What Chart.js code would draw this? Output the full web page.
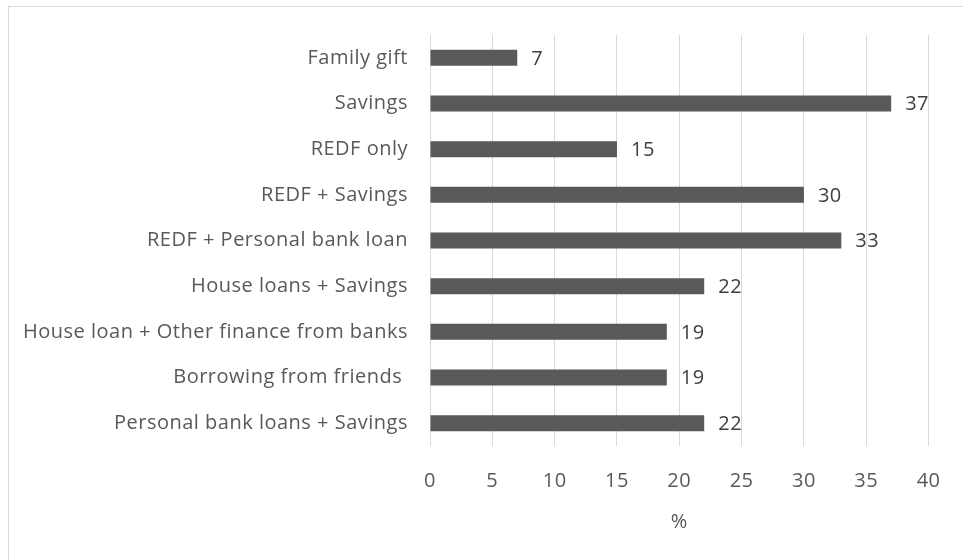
<!DOCTYPE html>
<html lang="en">
<head>
    <meta charset="UTF-8">
    <title>Financing sources</title>
    <style>
        html, body { margin: 0; padding: 0; background: #fff; }
        .frame {
            position: absolute; left: 8px; top: 6px; width: 1000px; height: 600px;
            border-left: 1px solid #d9d9d9; border-top: 1px solid #d9d9d9;
        }
        .wrap { position: absolute; left: 0; top: 0; width: 963px; height: 560px; }
    </style>
</head>
<body>
    <div class="frame"></div>
    <div class="wrap"><canvas id="myChart"></canvas></div>

    <script src="https://cdn.jsdelivr.net/npm/chart.js@4.4.0/dist/chart.umd.min.js"></script>
    <script>
        // data, top to bottom as in the picture
        var categories = [
            'Family gift',
            'Savings',
            'REDF only',
            'REDF + Savings',
            'REDF + Personal bank loan',
            'House loans + Savings',
            'House loan + Other finance from banks',
            'Borrowing from friends ',
            'Personal bank loans + Savings'
        ];
        var percents = [7, 37, 15, 30, 33, 22, 19, 19, 22];
        var xTicks = [0, 5, 10, 15, 20, 25, 30, 35, 40];

        var fontFamily = "'Open Sans', 'Liberation Sans', sans-serif";
        var fontSize = 20;

        // a touch of letter spacing so the text runs as wide as the original
        var spacing = {
            id: 'spacing',
            beforeDraw: function(chart) {
                if ('letterSpacing' in chart.ctx) chart.ctx.letterSpacing = '0.5px';
            }
        };

        // value labels at the end of each bar
        var valueLabels = {
            id: 'valueLabels',
            afterDatasetsDraw: function(chart) {
                var ctx = chart.ctx;
                var meta = chart.getDatasetMeta(0);
                ctx.save();
                ctx.font = fontSize + 'px ' + fontFamily;
                ctx.fillStyle = '#404040';
                ctx.textAlign = 'left';
                ctx.textBaseline = 'middle';
                meta.data.forEach(function(bar, i) {
                    ctx.fillText(String(percents[i]), bar.x + 14, bar.y + 1);
                });
                ctx.restore();
            }
        };

        var ctx = document.getElementById('myChart').getContext('2d');
        var myChart = new Chart(ctx, {
            type: 'bar',
            data: {
                labels: categories,
                datasets: [{
                    data: percents,
                    backgroundColor: '#595959',
                    barPercentage: 0.35,
                    categoryPercentage: 1.0
                }]
            },
            options: {
                indexAxis: 'y',
                responsive: true,
                maintainAspectRatio: false,
                animation: false,
                layout: { padding: { left: 0, right: 34, top: 35, bottom: 0 } },
                plugins: {
                    legend: { display: false },
                    tooltip: { enabled: false }
                },
                scales: {
                    x: {
                        min: 0,
                        max: 40,
                        afterBuildTicks: function(scale) {
                            scale.ticks = xTicks.map(function(v) { return { value: v }; });
                        },
                        afterFit: function(scale) { scale.height = 114; },
                        grid: { color: '#d9d9d9', drawTicks: false },
                        border: { display: false },
                        ticks: {
                            color: '#595959',
                            padding: 23,
                            font: { family: fontFamily, size: fontSize }
                        },
                        title: {
                            display: true,
                            text: '%',
                            color: '#595959',
                            padding: { top: 0, bottom: 26 },
                            font: { family: fontFamily, size: fontSize }
                        }
                    },
                    y: {
                        afterFit: function(scale) { scale.width = 430; },
                        grid: { display: false, drawTicks: false },
                        border: { display: false },
                        ticks: {
                            color: '#595959',
                            padding: 22,
                            font: { family: fontFamily, size: fontSize }
                        }
                    }
                }
            },
            plugins: [spacing, valueLabels]
        });
    </script>
</body>
</html>
